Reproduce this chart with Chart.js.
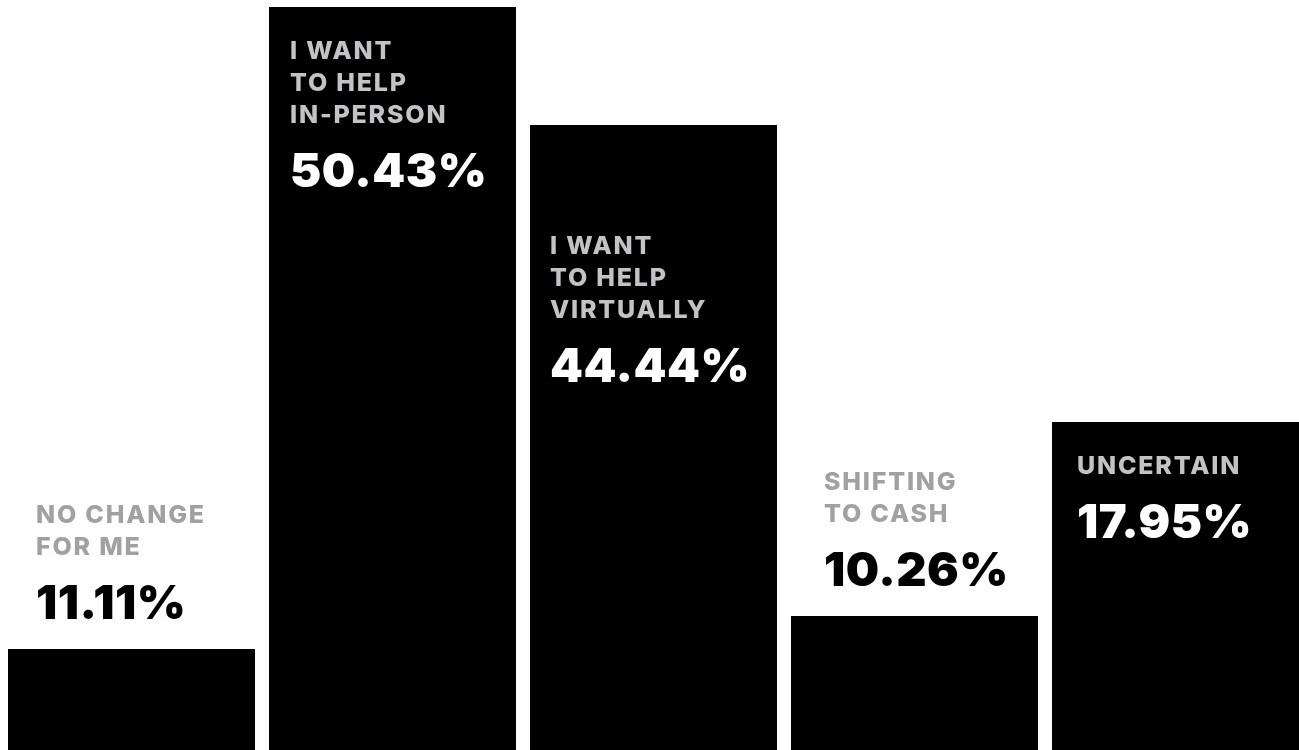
<!DOCTYPE html>
<html>
<head>
<meta charset="utf-8">
<script src="https://cdn.jsdelivr.net/npm/chart.js@4/dist/chart.umd.min.js"></script>
<style>
    html, body { margin: 0; padding: 0; background: #fff; overflow: hidden; }
    #wrap { position: absolute; left: 1px; top: 0; width: 1305px; height: 750px; }
</style>
</head>
<body>
<div id="wrap"><canvas id="bars"></canvas></div>
<script>
"use strict";

// answers, one bar each
const categories = [
    ['NO CHANGE', 'FOR ME'],
    ['I WANT', 'TO HELP', 'IN-PERSON'],
    ['I WANT', 'TO HELP', 'VIRTUALLY'],
    ['SHIFTING', 'TO CASH'],
    ['UNCERTAIN']
];
// the printed shares
const shares = ['11.11%', '50.43%', '44.44%', '10.26%', '17.95%'];
// drawn bar heights (0-100 of the chart height)
const barHeights = [13.47, 99.07, 83.33, 17.87, 43.73];

// text layout per bar: left inset, where the text block sits
const textInset = [28, 21, 20, 33, 25];
const textDrop = [null, 52, 129, null, 52]; // null = text sits above the bar

const labelFont = '800 25px Inter';
const shareFont = '900 47px Inter';

const barText = {
    id: 'barText',
    afterDatasetsDraw(chart) {
        const ctx = chart.ctx;
        const meta = chart.getDatasetMeta(0);
        ctx.save();
        ctx.textAlign = 'left';
        ctx.textBaseline = 'alphabetic';
        meta.data.forEach(function (bar, i) {
            const left = bar.x - bar.width / 2 + textInset[i];
            const lines = categories[i];
            const inside = textDrop[i] !== null;
            let firstBase, shareBase;
            if (inside) {
                firstBase = bar.y + textDrop[i];
                shareBase = firstBase + (lines.length - 1) * 32 + 64;
            } else {
                shareBase = bar.y - 30;
                firstBase = shareBase - 64 - (lines.length - 1) * 32;
            }
            ctx.font = labelFont;
            ctx.letterSpacing = '1.8px';
            ctx.fillStyle = inside ? '#c3c3c5' : '#a1a1a4';
            for (let k = 0; k < lines.length; k++) {
                ctx.fillText(lines[k], left, firstBase + k * 32);
            }
            ctx.font = shareFont;
            ctx.letterSpacing = '0.5px';
            ctx.fillStyle = inside ? '#ffffff' : '#000000';
            ctx.fillText(shares[i], left, shareBase);
        });
        ctx.restore();
    }
};

const ctx = document.getElementById('bars').getContext('2d');
new Chart(ctx, {
    type: 'bar',
    data: {
        labels: categories.map(function (c) { return c.join(' '); }),
        datasets: [{
            data: barHeights,
            backgroundColor: '#000000',
            borderWidth: 0,
            barPercentage: 1,
            categoryPercentage: 247 / 261
        }]
    },
    options: {
        responsive: true,
        maintainAspectRatio: false,
        animation: false,
        layout: { padding: 0 },
        plugins: {
            legend: { display: false },
            tooltip: { enabled: false }
        },
        scales: {
            x: { display: false },
            y: { display: false, min: 0, max: 100 }
        }
    },
    plugins: [barText]
});
</script>
</body>
</html>
